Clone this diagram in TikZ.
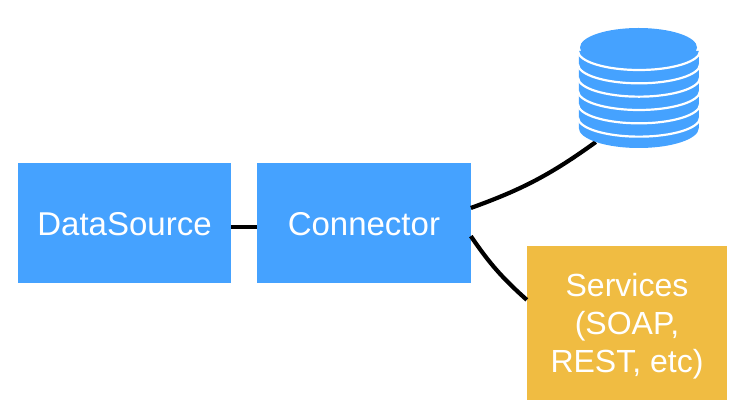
\documentclass[tikz,border=0pt]{standalone}
\usepackage{fontspec}
\setmainfont{Liberation Sans}
\usetikzlibrary{positioning,shapes.geometric}
\definecolor{dsblue}{HTML}{45A2FF}
\definecolor{svcgold}{HTML}{F0BC42}
\tikzset{
  box/.style={minimum width=213.5pt,minimum height=120pt,inner sep=0pt,fill=dsblue,text=white,
    font=\fontsize{33}{38}\selectfont},
  svcbox/.style={box,minimum width=200pt,minimum height=154pt,fill=svcgold,align=center,
    font=\fontsize{32}{38}\selectfont},
  wire/.style={line width=4.2pt,black},
  disc/.style={ellipse,inner sep=0pt,minimum width=120pt,minimum height=40pt}
}

\begin{document}
\begin{tikzpicture}[x=1pt,y=1pt]
  \useasboundingbox (0,0) rectangle (742,418);
  \node [box] (source) at (124.5,195) {\rule{0pt}{26pt}DataSource};
  \node [box,right=25.5pt of source] (connector) {\rule{0pt}{26pt}Connector};
  \node [svcbox] (services) at (627,95) {\rule{0pt}{30pt}Services\\(SOAP,\\REST, etc)};
  \node [disc] (store) at (639,290) {};
  \path[wire]
    (source.-2.15) edge (connector.182.15)
    (connector.8.5) edge [bend right=8] (store.198)
    (connector.-7.5) edge [bend right=7] (services.167.6);
  \fill [dsblue] (579,367) -- (store.west) arc [start angle=180,end angle=360,x radius=60,y radius=20]
    -- (699,367) -- cycle;
  \foreach \k in {0,...,5}
    \draw [white,line width=2.2pt] (578,{367-13.33*\k}) arc [start angle=180,end angle=360,x radius=61,y radius=19];
  \fill [dsblue] (638.5,370.5) ellipse [x radius=58.5,y radius=19.5];
\end{tikzpicture}
\end{document}
